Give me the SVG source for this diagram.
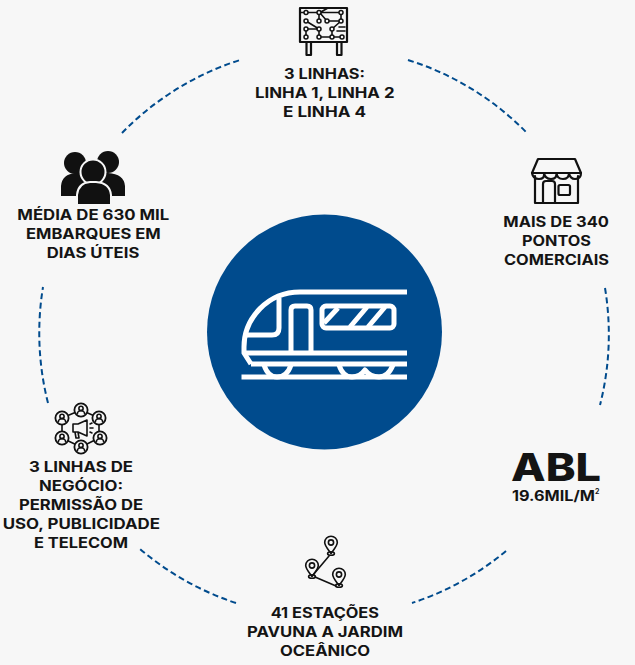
<svg xmlns="http://www.w3.org/2000/svg" width="635" height="665" viewBox="0 0 635 665">
<style>
.t{font-family:Inter,"Liberation Sans",sans-serif;font-weight:700;font-size:14px;fill:#141414}
.arc{fill:none;stroke:#004b8d;stroke-width:2;stroke-dasharray:6 3.5}
.w{fill:none;stroke:#fff;stroke-width:5;stroke-linejoin:round}
.k{fill:none;stroke:#111;stroke-width:2.2;stroke-linejoin:round;stroke-linecap:round}
.k1{fill:none;stroke:#111;stroke-width:1.6;stroke-linejoin:round;stroke-linecap:round}
.d{fill:#f7f7f7;stroke:#111;stroke-width:1.8}
</style>
<defs>
<g id="person"><circle r="6.600" class="d"/><circle cy="-1.600" r="2.100" class="k1"/><path d="M-3.600 3.800a3.600 3.200 0 0 1 7.200 0" class="k1"/></g>
<g id="pin"><path d="M0 10.500C-4 5-6.300 2.500-6.300-.5a6.300 6.300 0 0 1 12.600 0C6.300 2.500 4 5 0 10.500Z" class="k1"/><circle cy="-.5" r="2.600" class="k1"/><ellipse cy="10.500" rx="3.400" ry="1.800" class="k1"/></g>
</defs>
<rect width="635" height="665" fill="#f7f7f7"/>
<g id="connectors">
<path class="arc" d="M122 133A285 285 0 0 1 240 60"/>
<path class="arc" d="M408 60A285 285 0 0 1 527 133"/>
<path class="arc" d="M605 288A285 285 0 0 1 600 405"/>
<path class="arc" d="M506 551A285 285 0 0 1 412 603"/>
<path class="arc" d="M236 603A285 285 0 0 1 140 549"/>
<path class="arc" d="M48 403A285 285 0 0 1 43 287"/>
</g>
<g id="center">
<circle cx="324.500" cy="332" r="117.500" fill="#004b8d"/>
<path class="w" d="M407 292H300C268 292 244 318 244 347V353L251 364"/>
<path class="w" d="M244 353H407M251 364H407"/>
<path d="M241.500 377H407" stroke="#fff" stroke-width="5"/>
<path class="w" d="M279 298V328Q279 335 272 335H245"/>
<path class="w" d="M291 352V310Q291 306 295 306H307Q311 306 311 310V352"/>
<rect class="w" x="322" y="306" width="72" height="22" rx="4"/>
<path class="w" d="M324 323L338 308M350 327L367 307M368 327L385 307"/>
<path class="w" stroke-width="4.500" d="M264 365Q268 377 277 377Q287 377 291 365M339 365Q343 377 352 377Q360 377 365 370Q370 377 379 377Q388 377 393 365"/>
</g>
<g id="node-linhas">
<rect class="k" x="300" y="8" width="47" height="34"/>
<path class="k" d="M306.500 42V55H311V42M337 42V55H341.500V42"/>
<path class="k1" d="M301 12.500H341M306 21L319 29V37M319 21L319 13L328 8M327 21L320 13M327 21H341M341 12V21L332 29V37M306 29V37M306 29H319M319 37H342M332 37"/>
<g fill="#f7f7f7" stroke="#111" stroke-width="1.500">
<circle cx="306" cy="12.500" r="2"/><circle cx="319" cy="12.500" r="2"/><circle cx="341" cy="12.500" r="2"/><circle cx="341" cy="21" r="2"/><circle cx="306" cy="21" r="2"/><circle cx="319" cy="21" r="2"/><circle cx="327" cy="21" r="2"/><circle cx="306" cy="29" r="2"/><circle cx="319" cy="29" r="2"/><circle cx="332" cy="29" r="2"/><circle cx="306" cy="37" r="2"/><circle cx="319" cy="37" r="2"/><circle cx="332" cy="37" r="2"/><circle cx="342" cy="37" r="2"/>
</g>
<path class="k1" d="M339 27H345M337 31H345"/>
<text class="t" x="284" y="79" textLength="81" lengthAdjust="spacingAndGlyphs">3 LINHAS:</text>
<text class="t" x="255" y="98" textLength="139.500" lengthAdjust="spacingAndGlyphs">LINHA 1, LINHA 2</text>
<text class="t" x="283" y="117" textLength="83" lengthAdjust="spacingAndGlyphs">E LINHA 4</text>
</g>
<g id="node-comercios">
<path class="k" d="M538 159H575L581 173H532ZM535 176V203H578V176M543 203V184Q543 181 546 181H552Q555 181 555 184V203M535 203H578"/>
<path class="k" d="M532 173Q533 179 539 179Q545 179 544 173M544 173Q545 179 551 179Q557 179 556.500 173M556.500 173Q557 179 563 179Q569 179 569 173M569 173Q570 179 575 179Q581 179 581 173"/>
<rect class="k" x="558.500" y="185" width="11.500" height="10" rx="1.500"/>
<text class="t" x="503.300" y="227.300" textLength="105.700" lengthAdjust="spacingAndGlyphs">MAIS DE 340</text>
<text class="t" x="522" y="246" textLength="69" lengthAdjust="spacingAndGlyphs">PONTOS</text>
<text class="t" x="504" y="265" textLength="105" lengthAdjust="spacingAndGlyphs">COMERCIAIS</text>
</g>
<g id="node-abl">
<text class="t" x="511" y="481" style="font-size:38px;font-weight:800" textLength="90" lengthAdjust="spacingAndGlyphs">ABL</text>
<text class="t" x="512" y="501" textLength="83" lengthAdjust="spacingAndGlyphs">19.6MIL/M</text>
<text class="t" x="595" y="494" style="font-size:7px">2</text>
</g>
<g id="node-estacoes">
<use href="#pin" x="331" y="543"/><use href="#pin" x="312" y="566"/><use href="#pin" x="339" y="575"/>
<path class="k1" d="M329 556L313 575M315 577L336 586"/>
<text class="t" x="270.700" y="617.700" textLength="108.300" lengthAdjust="spacingAndGlyphs">41 ESTAÇÕES</text>
<text class="t" x="247" y="636.700" textLength="156" lengthAdjust="spacingAndGlyphs">PAVUNA A JARDIM</text>
<text class="t" x="280" y="656" textLength="90" lengthAdjust="spacingAndGlyphs">OCEÂNICO</text>
</g>
<g id="node-negocio">
<path class="k1" d="M81 410L99 418V438L81 447L62 438V418Z"/>
<use href="#person" x="81" y="410"/><use href="#person" x="99" y="418"/><use href="#person" x="100" y="438"/><use href="#person" x="81" y="447"/><use href="#person" x="62" y="438"/><use href="#person" x="62" y="418"/>
<path class="k1" d="M73 424H78L87 420V436L78 432H73ZM75 432L76 438H79L78 432M90 424L92 423M90 428H93M90 432L92 433"/>
<text class="t" x="29" y="472.300" textLength="104" lengthAdjust="spacingAndGlyphs">3 LINHAS DE</text>
<text class="t" x="39" y="491" textLength="84" lengthAdjust="spacingAndGlyphs">NEGÓCIO:</text>
<text class="t" x="19" y="510" textLength="124" lengthAdjust="spacingAndGlyphs">PERMISSÃO DE</text>
<text class="t" x="2.700" y="529" textLength="157.300" lengthAdjust="spacingAndGlyphs">USO, PUBLICIDADE</text>
<text class="t" x="34" y="548" textLength="94" lengthAdjust="spacingAndGlyphs">E TELECOM</text>
</g>
<g id="node-embarques">
<circle cx="75" cy="163" r="11" fill="#111"/><circle cx="108" cy="162" r="11" fill="#111"/>
<path fill="#111" d="M61 196V186Q62 174 76 173H108Q124 174 125 186V196H108V200H78V196Z"/>
<circle cx="93" cy="172" r="12.500" fill="#111" stroke="#f7f7f7" stroke-width="2"/>
<path fill="#111" stroke="#f7f7f7" stroke-width="2" d="M77 205V195Q78 183 90 182H96Q110 183 111 195V205Z"/>
<text class="t" x="17.300" y="220" textLength="152" lengthAdjust="spacingAndGlyphs">MÉDIA DE 630 MIL</text>
<text class="t" x="26" y="238.700" textLength="134.700" lengthAdjust="spacingAndGlyphs">EMBARQUES EM</text>
<text class="t" x="46.700" y="258" textLength="92.600" lengthAdjust="spacingAndGlyphs">DIAS ÚTEIS</text>
</g>
</svg>
